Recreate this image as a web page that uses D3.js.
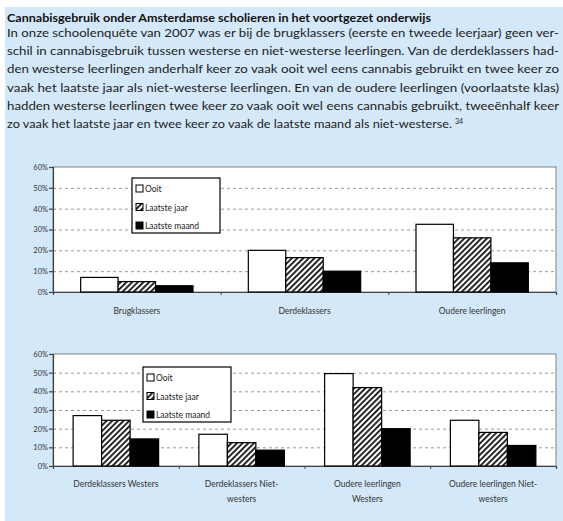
<!DOCTYPE html>
<html>
<head>
<meta charset="utf-8">
<script src="https://cdn.jsdelivr.net/npm/d3@7"></script>
<style>
  body { margin: 0; background: #fff; }
  svg { display: block; }
  text { font-family: Lato, "Open Sans", sans-serif; }
</style>
</head>
<body>
<div id="chart"></div>
<script>
//---------------------------DATA--------------------------//
const titleText = "Cannabisgebruik onder Amsterdamse scholieren in het voortgezet onderwijs";
const bodyLines = [
  "In onze schoolenquête van 2007 was er bij de brugklassers (eerste en tweede leerjaar) geen ver-",
  "schil in cannabisgebruik tussen westerse en niet-westerse leerlingen. Van de derdeklassers had-",
  "den westerse leerlingen anderhalf keer zo vaak ooit wel eens cannabis gebruikt en twee keer zo",
  "vaak het laatste jaar als niet-westerse leerlingen. En van de oudere leerlingen (voorlaatste klas)",
  "hadden westerse leerlingen twee keer zo vaak ooit wel eens cannabis gebruikt, tweeënhalf keer",
  "zo vaak het laatste jaar en twee keer zo vaak de laatste maand als niet-westerse."
];
const footnote = "34";

const series = ["Ooit", "Laatste jaar", "Laatste maand"];
const yTicks = [0, 10, 20, 30, 40, 50, 60];

const cats1 = ["Brugklassers", "Derdeklassers", "Oudere leerlingen"];
const ooit1 = [7, 20, 32.5];
const jaar1 = [5, 16.5, 26];
const maand1 = [3, 10, 14];

const cats2 = [["Derdeklassers Westers"], ["Derdeklassers Niet-", "westers"],
               ["Oudere leerlingen", "Westers"], ["Oudere leerlingen Niet-", "westers"]];
const ooit2 = [27, 17, 49.5, 24.5];
const jaar2 = [24.5, 12.5, 42, 18];
const maand2 = [14.5, 8.5, 20, 11];

//---------------------------SVG---------------------------//
const W = 563, H = 521;
const svg = d3.select("#chart").append("svg")
  .attr("width", W).attr("height", H);

const defs = svg.append("defs");
const pat = defs.append("pattern")
  .attr("id", "hatch")
  .attr("patternUnits", "userSpaceOnUse")
  .attr("width", 4).attr("height", 4)
  .attr("patternTransform", "rotate(45)");
pat.append("rect").attr("width", 4).attr("height", 4).attr("fill", "#fff");
pat.append("rect").attr("x", 0).attr("width", 1.8).attr("height", 4).attr("fill", "#111");

// blue panel
svg.append("rect")
  .attr("x", 5).attr("y", 7)
  .attr("width", W - 5).attr("height", H - 7)
  .attr("fill", "#d3e8f8");

//---------------------------TEXT--------------------------//
svg.append("text")
  .attr("x", 7).attr("y", 22)
  .style("font-size", "11.5px")
  .style("font-weight", "bold")
  .attr("fill", "#111")
  .attr("textLength", 424)
  .attr("lengthAdjust", "spacingAndGlyphs")
  .text(titleText);

bodyLines.forEach(function(line, i) {
  const t = svg.append("text")
    .attr("x", 7).attr("y", 37 + i * 18.2)
    .style("font-size", "11.5px")
    .attr("fill", "#222")
    .text(line);
  if (i < bodyLines.length - 1) {
    t.attr("textLength", 552).attr("lengthAdjust", "spacingAndGlyphs");
  } else {
    t.attr("textLength", 445).attr("lengthAdjust", "spacingAndGlyphs");
  }
});
svg.append("text")
  .attr("x", 455).attr("y", 124)
  .style("font-size", "7px")
  .attr("fill", "#222")
  .text(footnote);

//--------------------------CHARTS-------------------------//
function drawChart(opts) {
  const g = svg.append("g");
  const x0 = d3.scaleBand().domain(d3.range(opts.cats.length))
    .range([opts.left, opts.right]).padding(0);
  const bw = x0.bandwidth();
  const pad = bw * opts.pad;
  const x1 = d3.scaleBand().domain(series).range([pad, bw - pad]).padding(0);
  const y = d3.scaleLinear().domain([0, 60]).range([opts.bottom, opts.top]);

  // plot area
  g.append("rect")
    .attr("x", opts.left).attr("y", opts.top)
    .attr("width", opts.right - opts.left).attr("height", opts.bottom - opts.top)
    .attr("fill", "#fff").attr("stroke", "#808080").attr("stroke-width", 1);

  // grid
  g.selectAll(".grid").data(yTicks.slice(1, -1)).enter().append("line")
    .attr("x1", opts.left).attr("x2", opts.right)
    .attr("y1", d => y(d) + 0.5).attr("y2", d => y(d) + 0.5)
    .attr("stroke", "#999").attr("stroke-dasharray", "3,3");

  // y axis
  const yAxis = d3.axisLeft(y).tickValues(yTicks).tickSize(4)
    .tickFormat(d => d + "%");
  const ya = g.append("g").attr("transform", "translate(" + opts.left + ",0)").call(yAxis);
  ya.select(".domain").attr("stroke", "#444").attr("stroke-width", 1.2);
  ya.selectAll(".tick line").attr("stroke", "#444").attr("stroke-width", 1.2);
  ya.selectAll("text").style("font-size", "7.5px").attr("fill", "#333").attr("x", -5);

  // x axis
  const xAxis = d3.axisBottom(d3.scaleLinear().domain([0, opts.cats.length]).range([opts.left, opts.right]))
    .tickValues(d3.range(1, opts.cats.length)).tickSize(3).tickFormat("");
  const xa = g.append("g").attr("transform", "translate(0," + opts.bottom + ")").call(xAxis);
  xa.select(".domain").attr("stroke", "#444").attr("stroke-width", 1.2);
  xa.selectAll(".tick line").attr("stroke", "#444");

  // bars
  const fills = ["#fff", "url(#hatch)", "#000"];
  const vals = [opts.ooit, opts.jaar, opts.maand];
  opts.cats.forEach(function(c, ci) {
    series.forEach(function(s, si) {
      const v = vals[si][ci];
      g.append("rect")
        .attr("x", x0(ci) + x1(s))
        .attr("y", y(v))
        .attr("width", x1.bandwidth())
        .attr("height", y(0) - y(v))
        .attr("fill", fills[si])
        .attr("stroke", "#000").attr("stroke-width", 1.2);
    });
    const lines = Array.isArray(c) ? c : [c];
    lines.forEach(function(l, li) {
      g.append("text")
        .attr("x", x0(ci) + bw / 2)
        .attr("y", opts.labelY + li * 15)
        .attr("text-anchor", "middle")
        .style("font-size", "8.5px")
        .attr("fill", "#333")
        .text(l);
    });
  });

  // legend
  const lg = g.append("g").attr("transform", "translate(" + opts.legX + "," + opts.legY + ")");
  lg.append("rect").attr("width", 88).attr("height", 55)
    .attr("fill", "#fff").attr("stroke", "#000").attr("stroke-width", 1.2);
  series.forEach(function(s, si) {
    lg.append("rect")
      .attr("x", 4).attr("y", 7 + si * 18.5)
      .attr("width", 7).attr("height", 7)
      .attr("fill", fills[si]).attr("stroke", "#000").attr("stroke-width", 1);
    lg.append("text")
      .attr("x", 13).attr("y", 14 + si * 18.5)
      .style("font-size", "8.5px")
      .attr("fill", "#222")
      .text(s);
  });
}

drawChart({
  cats: cats1, ooit: ooit1, jaar: jaar1, maand: maand1,
  left: 53, right: 556, top: 167, bottom: 292, pad: 0.165,
  labelY: 314, legX: 132, legY: 178
});

drawChart({
  cats: cats2, ooit: ooit2, jaar: jaar2, maand: maand2,
  left: 53, right: 556, top: 354, bottom: 466, pad: 0.16,
  labelY: 487, legX: 143, legY: 367
});
</script>
</body>
</html>
